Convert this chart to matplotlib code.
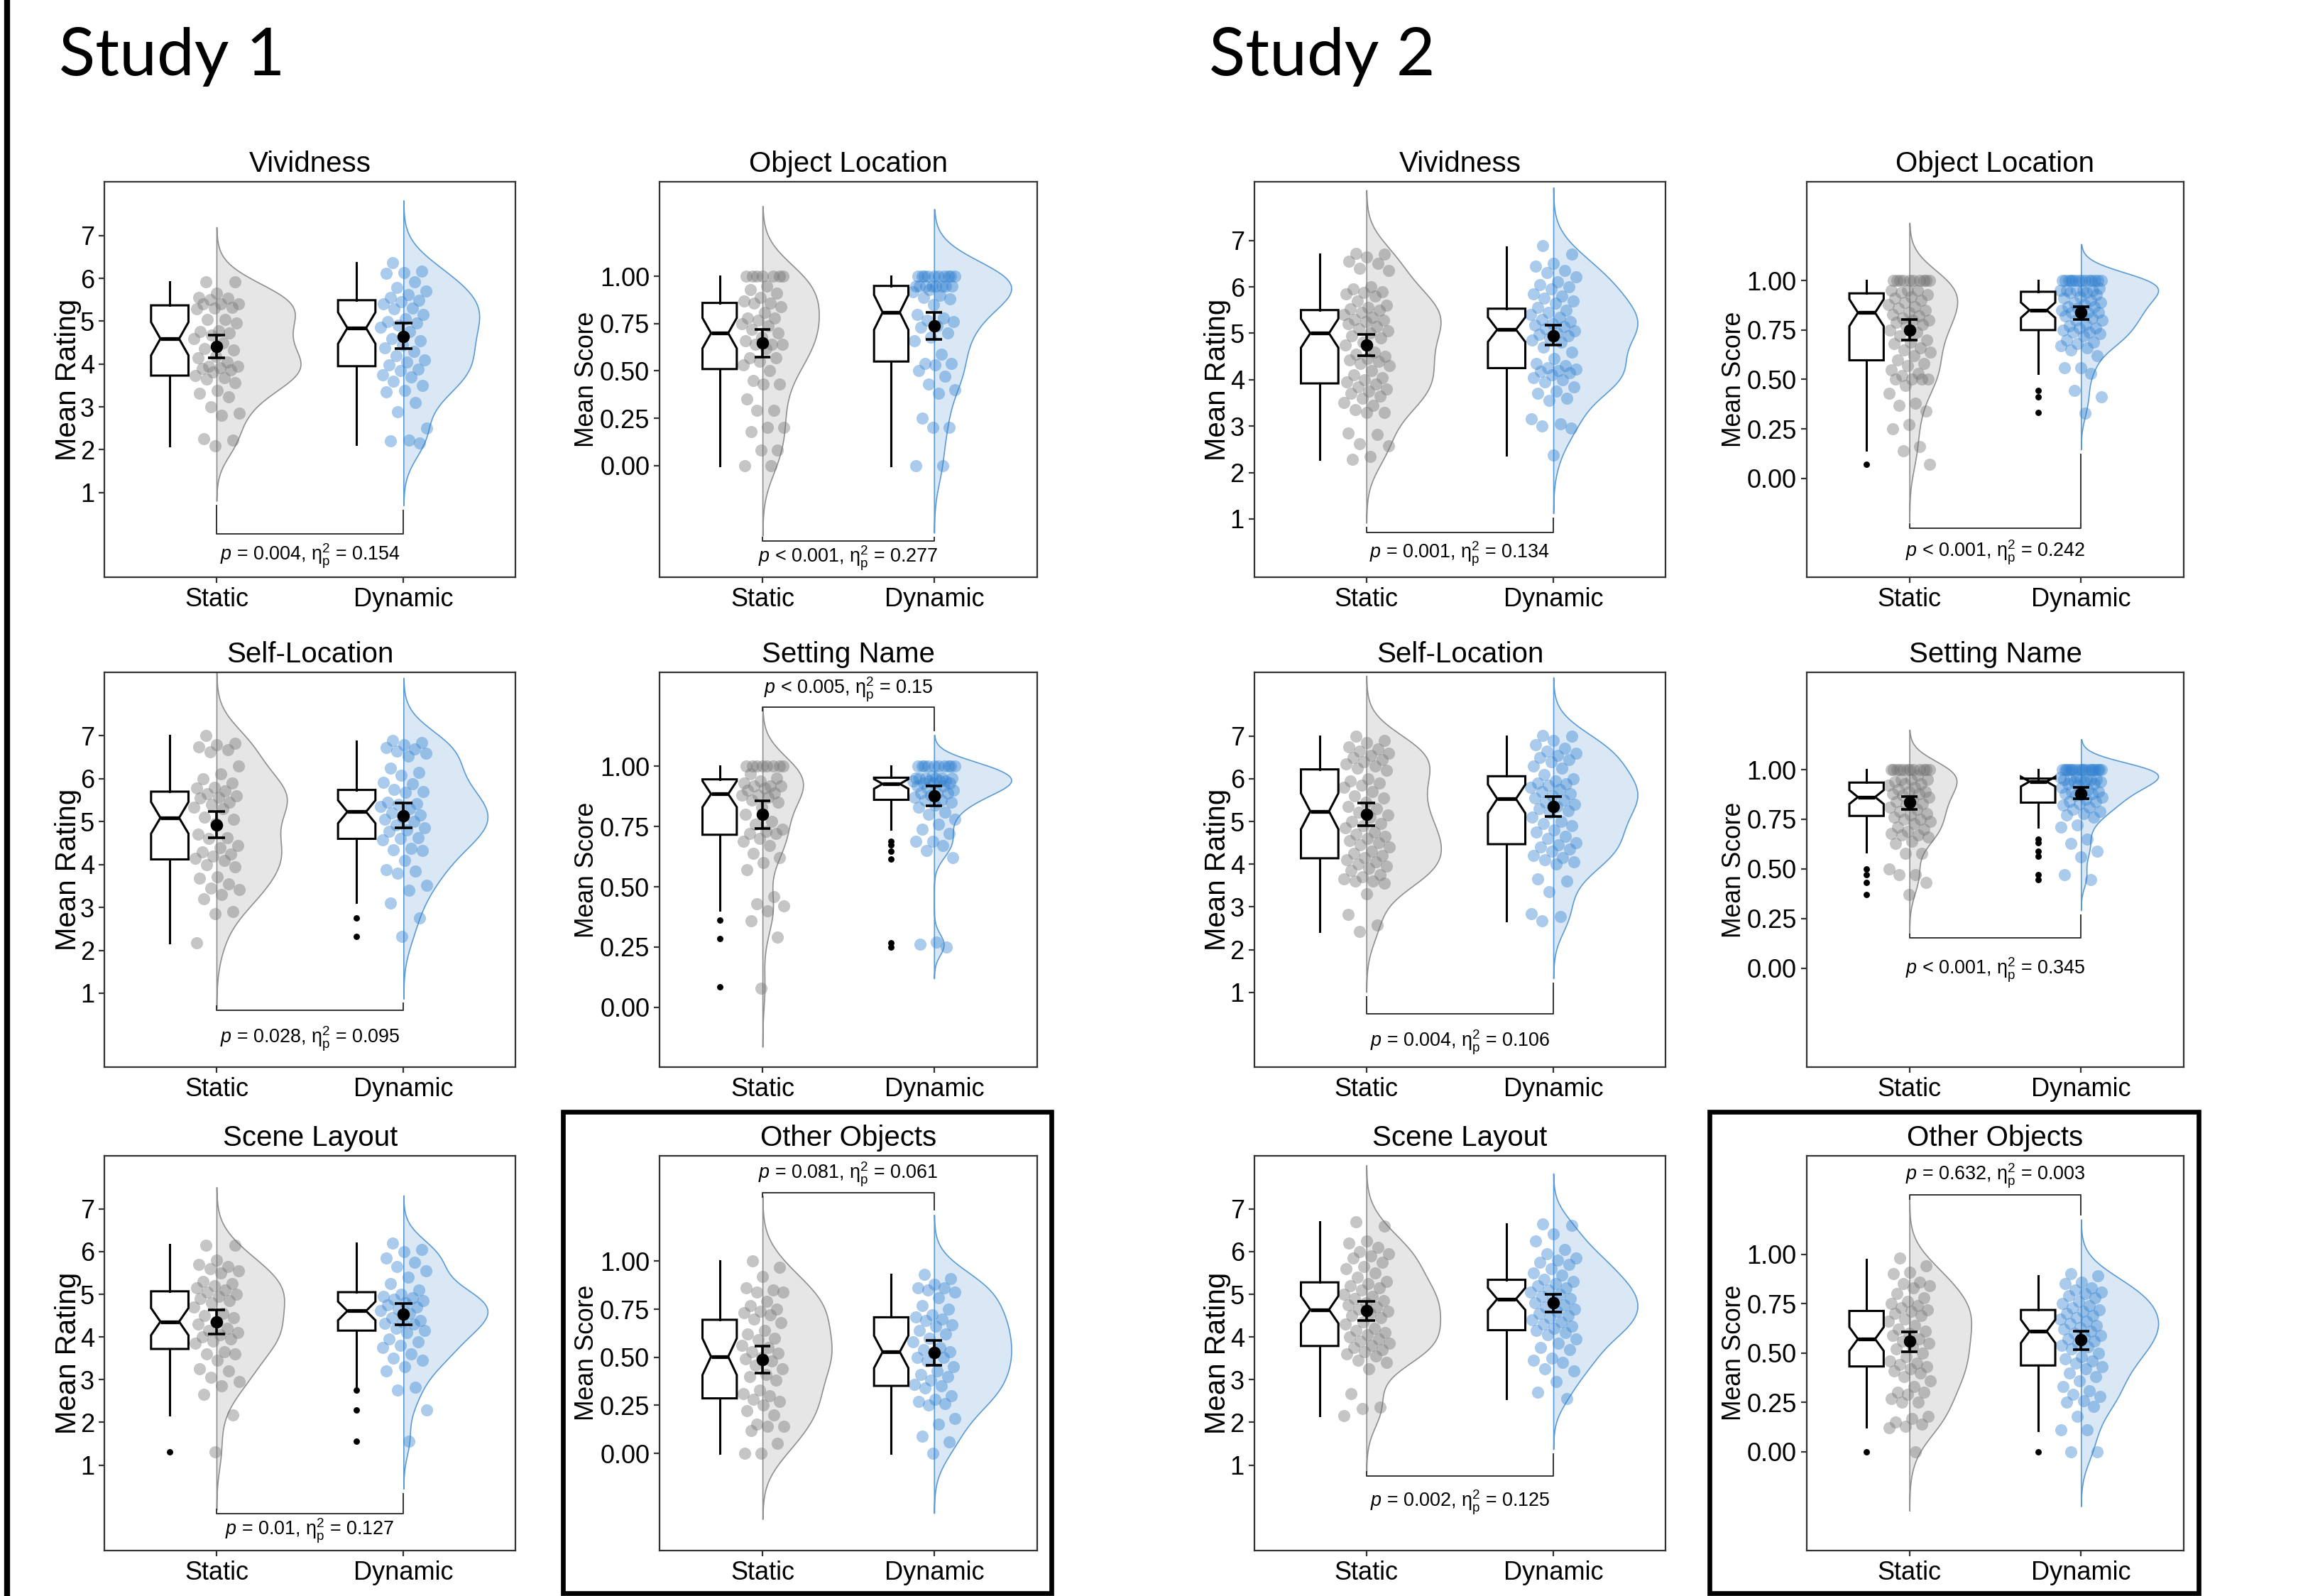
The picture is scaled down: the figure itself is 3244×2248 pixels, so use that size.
import numpy as np
import matplotlib
matplotlib.use("Agg")
import matplotlib.pyplot as plt
from matplotlib.lines import Line2D
from matplotlib.patches import Rectangle

plt.rcParams['font.family'] = ['Liberation Sans', 'DejaVu Sans']
plt.rcParams['mathtext.fontset'] = 'custom'
plt.rcParams['mathtext.rm'] = 'Liberation Sans'
plt.rcParams['mathtext.it'] = 'Liberation Sans:italic'

groups = ['Static', 'Dynamic']
rating_ticks = [1, 2, 3, 4, 5, 6, 7]
score_ticks = [0.0, 0.25, 0.5, 0.75, 1.0]
score_labels = ['0.00', '0.25', '0.50', '0.75', '1.00']

# ---------------- Study 1 ----------------
s1_viv_static = [5.91, 5.91, 5.65, 5.55, 5.53, 5.5, 5.4, 5.4, 5.4, 5.32, 5.3, 5.29, 5.04, 5.04, 4.95,
                 4.77, 4.75, 4.72, 4.68, 4.59, 4.5, 4.36, 4.32, 4.18, 4.14, 4.05, 3.95, 3.95, 3.91, 3.9,
                 3.86, 3.82, 3.73, 3.68, 3.64, 3.57, 3.39, 3.32, 3.23, 3.0, 2.85, 2.8, 2.26, 2.23, 2.09]
s1_viv_dynamic = [6.37, 6.17, 6.14, 6.12, 5.91, 5.78, 5.7, 5.62, 5.55, 5.48, 5.46, 5.4, 5.3, 5.28, 5.15,
                  5.05, 4.99, 4.96, 4.9, 4.86, 4.75, 4.6, 4.55, 4.45, 4.37, 4.3, 4.2, 4.1, 4.05, 3.98,
                  3.88, 3.84, 3.74, 3.7, 3.6, 3.5, 3.38, 3.35, 3.1, 2.88, 2.5, 2.22, 2.2, 2.15]
s1_viv_boxes = [(3.73, 4.59, 5.37, 2.09, 5.91), (3.95, 4.84, 5.49, 2.13, 6.36)]  # q1, median, q3, whisker lo, whisker hi
s1_viv_outliers = [[], []]
s1_viv_means = [(4.41, 4.14, 4.68), (4.65, 4.36, 4.95)]  # mean, ci lo, ci hi
s1_viv_stats = ('=', '0.004', '0.154')

s1_obj_static = [1.0, 1.0, 1.0, 1.0, 1.0, 1.0, 1.0, 0.95, 0.93, 0.91, 0.89, 0.87, 0.86, 0.86, 0.84,
                 0.81, 0.78, 0.78, 0.77, 0.75, 0.74, 0.72, 0.70, 0.68, 0.66, 0.64, 0.64, 0.64, 0.62, 0.57,
                 0.57, 0.55, 0.53, 0.50, 0.45, 0.43, 0.43, 0.35, 0.29, 0.29, 0.20, 0.20, 0.18, 0.08, 0.08,
                 0.0, 0.0]
s1_obj_dynamic = [1.0, 1.0, 1.0, 1.0, 1.0, 1.0, 1.0, 1.0, 1.0, 1.0, 0.95, 0.95, 0.95, 0.95, 0.95,
                  0.95, 0.95, 0.95, 0.93, 0.92, 0.90, 0.89, 0.88, 0.85, 0.80, 0.78, 0.77, 0.76, 0.74, 0.73,
                  0.70, 0.68, 0.66, 0.59, 0.54, 0.54, 0.53, 0.50, 0.47, 0.43, 0.40, 0.38, 0.25, 0.20, 0.20,
                  0.0, 0.0]
s1_obj_boxes = [(0.51, 0.70, 0.86, 0.0, 1.0), (0.55, 0.81, 0.95, 0.0, 1.0)]
s1_obj_outliers = [[], []]
s1_obj_means = [(0.65, 0.575, 0.72), (0.74, 0.667, 0.81)]
s1_obj_stats = ('<', '0.001', '0.277')

s1_self_static = [7.0, 6.82, 6.8, 6.75, 6.68, 6.62, 6.3, 6.12, 6.0, 5.9, 5.8, 5.78, 5.72, 5.65, 5.6,
                  5.57, 5.55, 5.45, 5.4, 5.33, 5.3, 5.1, 5.05, 4.95, 4.7, 4.62, 4.6, 4.45, 4.4, 4.3,
                  4.25, 4.2, 4.15, 4.1, 4.0, 3.95, 3.72, 3.68, 3.55, 3.45, 3.42, 3.3, 3.2, 2.9, 2.85, 2.18]
s1_self_dynamic = [6.9, 6.85, 6.8, 6.72, 6.7, 6.65, 6.6, 6.52, 6.25, 6.15, 6.08, 5.92, 5.88, 5.75, 5.7,
                   5.68, 5.45, 5.42, 5.4, 5.35, 5.3, 5.2, 5.15, 5.1, 5.05, 5.0, 4.92, 4.85, 4.8, 4.78,
                   4.62, 4.6, 4.58, 4.38, 4.35, 4.32, 4.1, 3.88, 3.85, 3.8, 3.52, 3.4, 3.1, 2.75, 2.32]
s1_self_boxes = [(4.12, 5.09, 5.70, 2.18, 7.0), (4.60, 5.23, 5.74, 3.11, 6.88)]
s1_self_outliers = [[], [2.75, 2.32]]
s1_self_means = [(4.93, 4.62, 5.23), (5.14, 4.86, 5.43)]
s1_self_stats = ('=', '0.028', '0.095')

s1_set_static = [1.0, 1.0, 1.0, 1.0, 1.0, 1.0, 1.0, 1.0, 0.97, 0.95, 0.94, 0.93, 0.92, 0.92, 0.92,
                 0.91, 0.90, 0.89, 0.88, 0.88, 0.87, 0.86, 0.85, 0.83, 0.80, 0.77, 0.76, 0.74, 0.73, 0.72,
                 0.72, 0.70, 0.69, 0.67, 0.64, 0.62, 0.60, 0.57, 0.46, 0.43, 0.42, 0.40, 0.36, 0.29, 0.08]
s1_set_dynamic = [1.0, 1.0, 1.0, 1.0, 1.0, 1.0, 1.0, 1.0, 1.0, 1.0, 0.96, 0.95, 0.95, 0.95, 0.95,
                  0.95, 0.95, 0.94, 0.94, 0.94, 0.94, 0.93, 0.93, 0.93, 0.92, 0.92, 0.91, 0.90, 0.89, 0.89,
                  0.89, 0.88, 0.87, 0.86, 0.86, 0.85, 0.84, 0.83, 0.81, 0.80, 0.78, 0.76, 0.74, 0.72, 0.69,
                  0.69, 0.67, 0.65, 0.62, 0.27, 0.26, 0.25]
s1_set_boxes = [(0.716, 0.885, 0.946, 0.403, 1.0), (0.861, 0.927, 0.953, 0.738, 1.0)]
s1_set_outliers = [[0.362, 0.285, 0.083], [0.69, 0.674, 0.646, 0.614, 0.268, 0.249]]
s1_set_means = [(0.80, 0.742, 0.857), (0.878, 0.835, 0.92)]
s1_set_stats = ('<', '0.005', '0.15')

s1_scene_static = [6.15, 6.15, 5.8, 5.7, 5.65, 5.6, 5.55, 5.5, 5.3, 5.25, 5.2, 5.15, 5.1, 5.05, 5.0,
                   4.95, 4.9, 4.85, 4.8, 4.7, 4.55, 4.5, 4.45, 4.35, 4.3, 4.2, 4.15, 4.1, 4.05, 4.0,
                   3.95, 3.9, 3.85, 3.65, 3.6, 3.6, 3.45, 3.25, 3.2, 3.05, 2.95, 2.85, 2.65, 2.17, 1.31]
s1_scene_dynamic = [6.2, 6.05, 6.0, 5.85, 5.75, 5.65, 5.55, 5.4, 5.25, 5.1, 5.0, 4.95, 4.92, 4.88, 4.85,
                    4.8, 4.75, 4.7, 4.65, 4.62, 4.55, 4.45, 4.38, 4.35, 4.32, 4.3, 4.2, 4.15, 4.1, 3.95,
                    3.88, 3.8, 3.75, 3.6, 3.5, 3.45, 3.3, 3.2, 2.82, 2.75, 2.29, 1.56]
s1_scene_boxes = [(3.72, 4.36, 5.07, 2.17, 6.16), (4.15, 4.61, 5.05, 2.80, 6.20)]
s1_scene_outliers = [[1.31], [2.75, 2.29, 1.56]]
s1_scene_means = [(4.36, 4.07, 4.63), (4.54, 4.28, 4.78)]
s1_scene_stats = ('=', '0.01', '0.127')

s1_other_static = [1.0, 0.97, 0.92, 0.86, 0.85, 0.84, 0.84, 0.79, 0.77, 0.75, 0.74, 0.73, 0.72, 0.70, 0.68,
                   0.64, 0.62, 0.60, 0.59, 0.56, 0.55, 0.53, 0.52, 0.50, 0.49, 0.48, 0.46, 0.44, 0.41, 0.40,
                   0.38, 0.33, 0.31, 0.30, 0.28, 0.27, 0.25, 0.22, 0.20, 0.15, 0.14, 0.14, 0.12, 0.05, 0.0, 0.0]
s1_other_dynamic = [0.93, 0.91, 0.88, 0.86, 0.86, 0.85, 0.84, 0.81, 0.77, 0.75, 0.72, 0.71, 0.70, 0.69, 0.67,
                    0.66, 0.64, 0.62, 0.60, 0.58, 0.55, 0.54, 0.53, 0.52, 0.50, 0.50, 0.48, 0.45, 0.43, 0.41,
                    0.40, 0.38, 0.36, 0.35, 0.34, 0.30, 0.28, 0.27, 0.26, 0.25, 0.18, 0.15, 0.09, 0.06, 0.0]
s1_other_boxes = [(0.286, 0.503, 0.695, 0.0, 1.0), (0.351, 0.528, 0.708, 0.0, 0.933)]
s1_other_outliers = [[], []]
s1_other_means = [(0.489, 0.419, 0.557), (0.524, 0.459, 0.589)]
s1_other_stats = ('=', '0.081', '0.061')

# ---------------- Study 2 ----------------
s2_viv_static = [6.72, 6.7, 6.65, 6.55, 6.5, 6.4, 6.35, 6.0, 5.95, 5.9, 5.88, 5.85, 5.8, 5.7, 5.6,
                 5.55, 5.52, 5.5, 5.45, 5.4, 5.35, 5.3, 5.28, 5.25, 5.2, 5.15, 5.1, 5.05, 5.0, 4.95,
                 4.9, 4.8, 4.75, 4.6, 4.55, 4.5, 4.45, 4.42, 4.4, 4.35, 4.3, 4.2, 4.1, 4.05, 4.0,
                 3.95, 3.9, 3.85, 3.8, 3.75, 3.7, 3.65, 3.6, 3.5, 3.45, 3.35, 3.3, 3.3, 2.85, 2.82,
                 2.62, 2.58, 2.35, 2.28]
s2_viv_dynamic = [6.88, 6.7, 6.5, 6.45, 6.35, 6.3, 6.22, 6.1, 6.05, 6.0, 5.95, 5.85, 5.8, 5.75, 5.7,
                  5.65, 5.55, 5.5, 5.45, 5.4, 5.35, 5.3, 5.25, 5.2, 5.18, 5.15, 5.1, 5.05, 5.0, 4.98,
                  4.95, 4.9, 4.85, 4.8, 4.7, 4.6, 4.45, 4.35, 4.3, 4.25, 4.22, 4.2, 4.18, 4.15, 4.1,
                  4.05, 4.0, 3.95, 3.85, 3.75, 3.7, 3.6, 3.55, 3.15, 3.05, 3.0, 2.95, 2.38]
s2_viv_boxes = [(3.92, 5.0, 5.50, 2.28, 6.71), (4.25, 5.08, 5.53, 2.38, 6.86)]
s2_viv_outliers = [[], []]
s2_viv_means = [(4.74, 4.51, 4.97), (4.95, 4.74, 5.17)]
s2_viv_stats = ('=', '0.001', '0.134')

s2_obj_static = [1.0, 1.0, 1.0, 1.0, 1.0, 1.0, 1.0, 1.0, 1.0, 1.0, 0.95, 0.95, 0.95, 0.94, 0.93,
                 0.92, 0.91, 0.90, 0.89, 0.88, 0.87, 0.86, 0.85, 0.84, 0.83, 0.82, 0.81, 0.80, 0.80, 0.79,
                 0.78, 0.77, 0.75, 0.74, 0.72, 0.70, 0.69, 0.68, 0.66, 0.65, 0.64, 0.62, 0.60, 0.58, 0.57,
                 0.55, 0.53, 0.52, 0.50, 0.50, 0.50, 0.50, 0.47, 0.43, 0.38, 0.37, 0.34, 0.27, 0.25, 0.16,
                 0.14, 0.07]
s2_obj_dynamic = [1.0, 1.0, 1.0, 1.0, 1.0, 1.0, 1.0, 1.0, 1.0, 1.0, 1.0, 1.0, 1.0, 1.0, 0.96,
                  0.95, 0.95, 0.95, 0.95, 0.95, 0.94, 0.94, 0.93, 0.92, 0.91, 0.90, 0.89, 0.89, 0.88, 0.87,
                  0.87, 0.86, 0.85, 0.84, 0.84, 0.84, 0.83, 0.82, 0.81, 0.80, 0.80, 0.78, 0.77, 0.76, 0.76,
                  0.75, 0.74, 0.74, 0.73, 0.72, 0.70, 0.69, 0.68, 0.67, 0.66, 0.65, 0.62, 0.56, 0.56, 0.53,
                  0.445, 0.41, 0.33]
s2_obj_boxes = [(0.597, 0.838, 0.936, 0.141, 1.0), (0.75, 0.851, 0.944, 0.53, 1.0)]
s2_obj_outliers = [[0.069], [0.445, 0.41, 0.332]]
s2_obj_means = [(0.751, 0.698, 0.803), (0.838, 0.803, 0.867)]
s2_obj_stats = ('<', '0.001', '0.242')

s2_self_static = [7.0, 6.9, 6.85, 6.75, 6.7, 6.65, 6.6, 6.55, 6.5, 6.45, 6.4, 6.35, 6.3, 6.25, 6.2,
                  6.0, 5.95, 5.9, 5.85, 5.8, 5.7, 5.6, 5.55, 5.45, 5.35, 5.3, 5.22, 5.15, 5.1, 5.0,
                  4.95, 4.9, 4.85, 4.75, 4.7, 4.65, 4.6, 4.55, 4.5, 4.45, 4.4, 4.3, 4.25, 4.2, 4.15,
                  4.1, 4.05, 4.0, 3.95, 3.9, 3.85, 3.75, 3.7, 3.65, 3.6, 3.6, 3.55, 3.3, 2.82, 2.57, 2.42]
s2_self_dynamic = [7.02, 7.0, 6.9, 6.8, 6.72, 6.65, 6.6, 6.55, 6.5, 6.45, 6.4, 6.3, 6.25, 6.1, 6.0,
                   5.95, 5.9, 5.88, 5.85, 5.8, 5.75, 5.7, 5.65, 5.6, 5.55, 5.5, 5.45, 5.4, 5.35, 5.3,
                   5.25, 5.2, 5.1, 5.0, 4.95, 4.9, 4.8, 4.75, 4.65, 4.6, 4.5, 4.45, 4.4, 4.35, 4.3,
                   4.2, 4.15, 4.1, 4.05, 4.0, 3.65, 3.6, 3.35, 2.85, 2.78, 2.68]
s2_self_boxes = [(4.14, 5.24, 6.22, 2.42, 7.0), (4.47, 5.53, 6.06, 2.68, 7.0)]
s2_self_outliers = [[], []]
s2_self_means = [(5.17, 4.91, 5.43), (5.35, 5.12, 5.58)]
s2_self_stats = ('=', '0.004', '0.106')

s2_set_static = [1.0, 1.0, 1.0, 1.0, 1.0, 1.0, 1.0, 1.0, 1.0, 1.0, 1.0, 1.0, 0.97, 0.95, 0.95,
                 0.95, 0.94, 0.93, 0.93, 0.92, 0.91, 0.90, 0.89, 0.89, 0.88, 0.88, 0.87, 0.86, 0.85, 0.84,
                 0.83, 0.82, 0.81, 0.80, 0.79, 0.78, 0.77, 0.76, 0.75, 0.75, 0.74, 0.73, 0.71, 0.70, 0.69,
                 0.68, 0.67, 0.67, 0.66, 0.64, 0.63, 0.58, 0.58, 0.50, 0.47, 0.47, 0.43, 0.37]
s2_set_dynamic = [1.0, 1.0, 1.0, 1.0, 1.0, 1.0, 1.0, 1.0, 1.0, 1.0, 1.0, 1.0, 1.0, 1.0, 1.0,
                  1.0, 1.0, 1.0, 0.96, 0.96, 0.95, 0.95, 0.95, 0.95, 0.95, 0.95, 0.94, 0.94, 0.94, 0.93,
                  0.93, 0.92, 0.91, 0.90, 0.89, 0.89, 0.89, 0.88, 0.88, 0.87, 0.86, 0.85, 0.84, 0.84, 0.83,
                  0.82, 0.81, 0.80, 0.79, 0.78, 0.77, 0.76, 0.72, 0.71, 0.65, 0.63, 0.59, 0.56, 0.47, 0.445]
s2_set_boxes = [(0.767, 0.862, 0.935, 0.586, 1.0), (0.834, 0.94, 0.955, 0.71, 1.0)]
s2_set_outliers = [[0.50, 0.47, 0.43, 0.372], [0.648, 0.633, 0.589, 0.563, 0.47, 0.446]]
s2_set_means = [(0.834, 0.80, 0.865), (0.88, 0.853, 0.91)]
s2_set_stats = ('<', '0.001', '0.345')

s2_scene_static = [6.7, 6.6, 6.25, 6.2, 6.1, 6.0, 5.95, 5.9, 5.85, 5.75, 5.65, 5.6, 5.5, 5.4, 5.3,
                   5.25, 5.2, 5.15, 5.1, 5.0, 4.95, 4.9, 4.85, 4.8, 4.75, 4.7, 4.65, 4.6, 4.55, 4.5,
                   4.45, 4.35, 4.3, 4.2, 4.15, 4.1, 4.05, 4.0, 3.95, 3.9, 3.85, 3.8, 3.75, 3.7, 3.65,
                   3.6, 3.55, 3.45, 3.4, 3.25, 2.68, 2.35, 2.32, 2.15]
s2_scene_dynamic = [6.65, 6.62, 6.42, 6.25, 6.05, 5.95, 5.85, 5.8, 5.75, 5.7, 5.6, 5.5, 5.45, 5.35, 5.3,
                    5.25, 5.2, 5.15, 5.1, 5.05, 5.0, 4.95, 4.9, 4.85, 4.8, 4.75, 4.7, 4.65, 4.6, 4.55,
                    4.5, 4.45, 4.4, 4.35, 4.3, 4.25, 4.2, 4.15, 4.1, 4.05, 3.95, 3.85, 3.75, 3.7, 3.5,
                    3.45, 3.4, 3.25, 3.2, 2.95, 2.7, 2.55]
s2_scene_boxes = [(3.79, 4.64, 5.28, 2.15, 6.69), (4.16, 4.89, 5.34, 2.55, 6.64)]
s2_scene_outliers = [[], []]
s2_scene_means = [(4.61, 4.38, 4.83), (4.80, 4.58, 5.0)]
s2_scene_stats = ('=', '0.002', '0.125')

s2_other_static = [0.98, 0.94, 0.91, 0.90, 0.86, 0.85, 0.84, 0.83, 0.80, 0.78, 0.76, 0.75, 0.74, 0.73, 0.72,
                   0.71, 0.70, 0.69, 0.67, 0.66, 0.64, 0.62, 0.61, 0.60, 0.59, 0.57, 0.56, 0.55, 0.53, 0.52,
                   0.50, 0.48, 0.46, 0.45, 0.44, 0.43, 0.42, 0.41, 0.40, 0.38, 0.36, 0.33, 0.30, 0.30, 0.29,
                   0.27, 0.25, 0.25, 0.18, 0.17, 0.15, 0.14, 0.13, 0.12, 0.0]
s2_other_dynamic = [0.90, 0.89, 0.86, 0.85, 0.83, 0.82, 0.81, 0.80, 0.79, 0.78, 0.76, 0.75, 0.74, 0.73, 0.72,
                    0.71, 0.70, 0.69, 0.68, 0.67, 0.66, 0.65, 0.64, 0.63, 0.62, 0.61, 0.60, 0.59, 0.58, 0.57,
                    0.56, 0.55, 0.54, 0.53, 0.52, 0.50, 0.48, 0.47, 0.46, 0.45, 0.43, 0.42, 0.40, 0.38, 0.36,
                    0.33, 0.31, 0.29, 0.28, 0.26, 0.25, 0.23, 0.18, 0.11, 0.11, 0.0, 0.0]
s2_other_boxes = [(0.432, 0.571, 0.713, 0.126, 0.973), (0.437, 0.61, 0.718, 0.106, 0.891)]
s2_other_outliers = [[0.0], [0.0]]
s2_other_means = [(0.56, 0.508, 0.607), (0.566, 0.516, 0.61)]
s2_other_stats = ('=', '0.632', '0.003')

fills = ['#e6e6e6', '#dae8f6']
edges = ['#8f8f8f', '#5b9bd5']
dots = ['#707070', '#2f7fd0']


def kde(vals):
    v = np.asarray(vals, float)
    n = len(v)
    q75, q25 = np.percentile(v, [75, 25])
    bw = 0.9 * min(v.std(ddof=1), (q75 - q25) / 1.34) * n ** -0.2
    grid = np.linspace(v.min() - 3 * bw, v.max() + 3 * bw, 400)
    dens = np.exp(-0.5 * ((grid[:, None] - v[None, :]) / bw) ** 2).sum(1) / (n * bw * np.sqrt(2 * np.pi))
    return grid, dens


def raincloud(ax, static, dynamic, boxes, outliers, means, stats, title, rating,
              ylim, bar_y, text_y, top):
    data = [np.asarray(static), np.asarray(dynamic)]
    pos = np.array([1.0, 2.0])
    yr = ylim[1] - ylim[0]

    # half violins
    curves = [kde(d) for d in data]
    peak = max(c[1].max() for c in curves)
    for i, (grid, dens) in enumerate(curves):
        ax.fill_betweenx(grid, pos[i], pos[i] + dens / peak * 0.45, facecolor=fills[i],
                         edgecolor=edges[i], lw=0.6, zorder=1)

    # raw points
    for i, d in enumerate(data):
        jit = ((np.arange(len(d)) * 0.618034 + 0.27) % 1 - 0.5) * 0.25
        ax.scatter(pos[i] + jit, d, s=38, color=dots[i], alpha=0.4, lw=0, zorder=2)

    # notched boxes
    bstats = []
    for i, (q1, med, q3, lo, hi) in enumerate(boxes):
        half = 1.58 * (q3 - q1) / np.sqrt(len(data[i]))
        bstats.append(dict(q1=q1, med=med, q3=q3, whislo=lo, whishi=hi,
                           fliers=outliers[i], cilo=med - half, cihi=med + half))
    ax.bxp(bstats, positions=pos - 0.25, widths=0.2, shownotches=True, showcaps=False,
           patch_artist=True, manage_ticks=False,
           boxprops=dict(facecolor='white', edgecolor='black', lw=1.1),
           medianprops=dict(color='black', lw=1.9),
           whiskerprops=dict(color='black', lw=1.1),
           flierprops=dict(marker='o', markersize=2.2, markerfacecolor='black',
                           markeredgecolor='black', linestyle='none'),
           zorder=3)

    # mean with CI
    for i, (m, lo, hi) in enumerate(means):
        ax.vlines(pos[i], lo, hi, color='black', lw=1.3, zorder=4)
        ax.hlines([lo, hi], pos[i] - 0.047, pos[i] + 0.047, color='black', lw=1.3, zorder=4)
        ax.plot(pos[i], m, 'o', color='black', ms=5.3, zorder=5)

    # significance bracket
    gap = 0.012 * yr
    if top:
        tips = [min(c[0].max() + gap, bar_y - 0.01 * yr) for c in curves]
    else:
        tips = [max(c[0].min() - gap, bar_y + 0.01 * yr) for c in curves]
    ax.plot([1, 1, 2, 2], [tips[0], bar_y, bar_y, tips[1]], color='#333333', lw=0.7, zorder=3)
    op, pv, eta = stats
    label = '$p$ ' + op + ' ' + pv + r', $\mathrm{\eta}_\mathrm{p}^2$ = ' + eta
    ax.text(1.5, text_y, label, ha='center', va='center', fontsize=9.7)

    ax.set_xlim(0.4, 2.6)
    ax.set_ylim(*ylim)
    ax.set_xticks(pos, groups, fontsize=13)
    if rating:
        ax.set_yticks(rating_ticks, [str(t) for t in rating_ticks], fontsize=13)
        ax.set_ylabel('Mean Rating', fontsize=14.5)
        ax.yaxis.set_label_coords(-0.056, 0.5)
    else:
        ax.set_yticks(score_ticks, score_labels, fontsize=13)
        ax.set_ylabel('Mean Score', fontsize=12.8)
        ax.yaxis.set_label_coords(-0.16, 0.5)
    for sp in ax.spines.values():
        sp.set_color('#333333')
        sp.set_linewidth(0.8)
    ax.tick_params(length=3, width=0.8, color='#333333', pad=2)
    ax.set_title(title, fontsize=14.5, pad=5)


fig = plt.figure(figsize=(16.22, 11.24), dpi=200)

lefts = [[0.0453, 0.2864], [0.5446, 0.7844]]
widths = [0.1786, 0.1639]
bottoms = [0.6385, 0.3312, 0.0285]
height = 0.2475

panels = [
    # study, row, col, data, title, rating, ylim, bracket y, text y, bracket on top
    (0, 0, 0, (s1_viv_static, s1_viv_dynamic, s1_viv_boxes, s1_viv_outliers, s1_viv_means, s1_viv_stats),
     'Vividness', True, (-0.97, 8.25), 0.04, -0.48, False),
    (0, 0, 1, (s1_obj_static, s1_obj_dynamic, s1_obj_boxes, s1_obj_outliers, s1_obj_means, s1_obj_stats),
     'Object Location', False, (-0.59, 1.50), -0.40, -0.49, False),
    (0, 1, 0, (s1_self_static, s1_self_dynamic, s1_self_boxes, s1_self_outliers, s1_self_means, s1_self_stats),
     'Self-Location', True, (-0.73, 8.48), 0.61, -0.07, False),
    (0, 1, 1, (s1_set_static, s1_set_dynamic, s1_set_boxes, s1_set_outliers, s1_set_means, s1_set_stats),
     'Setting Name', False, (-0.25, 1.39), 1.247, 1.317, True),
    (0, 2, 0, (s1_scene_static, s1_scene_dynamic, s1_scene_boxes, s1_scene_outliers, s1_scene_means, s1_scene_stats),
     'Scene Layout', True, (-1.0, 8.25), -0.13, -0.55, False),
    (0, 2, 1, (s1_other_static, s1_other_dynamic, s1_other_boxes, s1_other_outliers, s1_other_means, s1_other_stats),
     'Other Objects', False, (-0.506, 1.55), 1.355, 1.45, True),
    (1, 0, 0, (s2_viv_static, s2_viv_dynamic, s2_viv_boxes, s2_viv_outliers, s2_viv_means, s2_viv_stats),
     'Vividness', True, (-0.25, 8.26), 0.71, 0.25, False),
    (1, 0, 1, (s2_obj_static, s2_obj_dynamic, s2_obj_boxes, s2_obj_outliers, s2_obj_means, s2_obj_stats),
     'Object Location', False, (-0.50, 1.50), -0.252, -0.377, False),
    (1, 1, 0, (s2_self_static, s2_self_dynamic, s2_self_boxes, s2_self_outliers, s2_self_means, s2_self_stats),
     'Self-Location', True, (-0.755, 8.49), 0.50, -0.18, False),
    (1, 1, 1, (s2_set_static, s2_set_dynamic, s2_set_boxes, s2_set_outliers, s2_set_means, s2_set_stats),
     'Setting Name', False, (-0.50, 1.49), 0.152, -0.01, False),
    (1, 2, 0, (s2_scene_static, s2_scene_dynamic, s2_scene_boxes, s2_scene_outliers, s2_scene_means, s2_scene_stats),
     'Scene Layout', True, (-1.0, 8.25), 0.745, 0.12, False),
    (1, 2, 1, (s2_other_static, s2_other_dynamic, s2_other_boxes, s2_other_outliers, s2_other_means, s2_other_stats),
     'Other Objects', False, (-0.50, 1.50), 1.30, 1.396, True),
]

for study, row, col, d, title, rating, ylim, bar_y, text_y, top in panels:
    ax = fig.add_axes([lefts[study][col], bottoms[row], widths[col], height])
    raincloud(ax, *d, title, rating, ylim, bar_y, text_y, top)

# study headings
fig.text(0.0255, 0.953, 'Study 1', fontsize=34, family='Lato', va='baseline')
fig.text(0.525, 0.953, 'Study 2', fontsize=34, family='Lato', va='baseline')

# left rule and highlight frames
fig.add_artist(Line2D([0.0032, 0.0032], [0, 1], transform=fig.transFigure, color='black', lw=3))
for x0, x1 in [(0.2443, 0.4566), (0.7423, 0.9547)]:
    fig.add_artist(Rectangle((x0, 0.002), x1 - x0, 0.3016, transform=fig.transFigure,
                             fill=False, edgecolor='black', lw=2.4))

fig.savefig('out.png', dpi=200)
